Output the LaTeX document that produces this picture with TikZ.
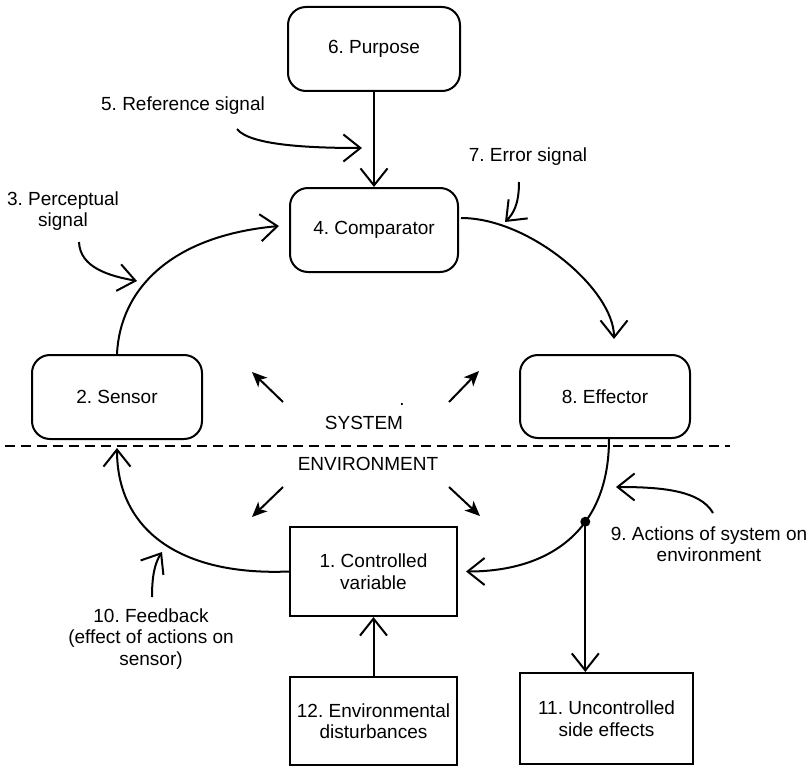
\documentclass[tikz,border=0pt]{standalone}
\usepackage{fontspec}
\setmainfont{Liberation Sans}
\usetikzlibrary{arrows.meta}
\begin{document}
\frenchspacing
\begin{tikzpicture}[x=1pt,y=-1pt,
  every node/.style={font=\fontsize{19}{21.5}\selectfont\frenchspacing, align=center, inner sep=0pt},
  rbox/.style={draw, line width=2pt, rounded corners=18pt},
  sbox/.style={draw, line width=2pt},
  conn/.style={line width=2pt, -{Straight Barb[length=17pt,width=27pt,line width=2pt]}},
  filled/.style={line width=2pt, -{Stealth[length=15pt,width=13pt,inset=4pt]}},
  divider/.style={line width=2pt, dash pattern=on 10pt off 6pt}
]
\useasboundingbox (0,0) rectangle (812,768);

% boxes
\node[rbox, minimum width=172pt, minimum height=84pt] (purpose) at (374,49) {6. Purpose};
\node[rbox, minimum width=168pt, minimum height=84pt] (comp) at (374,230) {4. Comparator};
\node[rbox, minimum width=170pt, minimum height=84pt] (sensor) at (117,397) {2. Sensor};
\node[rbox, minimum width=170pt, minimum height=83pt] (eff) at (605,396.5) {8. Effector};
\node[sbox, minimum width=167pt, minimum height=89pt] (cv) at (373.5,571.5) {1. Controlled\\variable};
\node[sbox, minimum width=167pt, minimum height=88pt] (dist) at (373.5,721) {12. Environmental\\disturbances};
\node[sbox, minimum width=173pt, minimum height=91pt] (se) at (606.5,718.5) {11. Uncontrolled\\side effects};

% labels
\node (lref) at (183,106) {5. Reference signal};
\node (lperc) at (63,211) {3. Perceptual\\signal};
\node (lerr) at (528,157) {7. Error signal};
\node (lsys) at (364,423) {SYSTEM};
\node (lenv) at (368,464) {ENVIRONMENT};
\node (lact) at (709,544) {9. Actions of system on\\environment};
\node (lfb) at (151,639) {10. Feedback\\(effect of actions on\\sensor)};
\node[anchor=base] (ldot) at (402,405) {.};

% divider
\coordinate (dl) at (5,446);
\coordinate (dr) at (730,446);
\draw[divider] (dl) -- (dr);

% main loop
\draw[conn] (purpose.south) -- (comp.north);
\draw[conn] (sensor.north) .. controls (120,290) and (170,236) .. ([xshift=-10pt,yshift=4pt]comp.west);
\draw[conn] ([xshift=2pt,yshift=12pt]comp.east) .. controls (530,218) and (614,290) .. ([xshift=9pt,yshift=15pt]eff.north);
\draw[conn] ([xshift=4pt]eff.south) .. controls (609,530) and (550,571.5) .. coordinate[pos=0.38] (dot) ([xshift=8pt]cv.east);
\fill (dot) circle (5pt);
\draw[conn] (dot) -- (dot |- se.north);
\draw[conn] (cv.west) .. controls (180,576) and (117,530) .. ([yshift=-8pt]sensor.south);
\draw[conn] (dist.north) -- (cv.south);

% label arrows
\coordinate (refs) at (237,129);
\coordinate (reft) at (362,148);
\draw[conn] (refs) .. controls (250,146) and (315,148) .. (reft);
\coordinate (percs) at (79,242);
\coordinate (perct) at (137,281);
\draw[conn] (percs) .. controls (80,268) and (110,276) .. (perct);
\coordinate (errs) at (519,182);
\coordinate (errt) at (505,222);
\draw[conn] (errs) .. controls (519,205) and (513,214) .. (errt);
\coordinate (acts) at (713,513);
\coordinate (actt) at (616,487);
\draw[conn] (acts) .. controls (700,490) and (660,487) .. (actt);
\coordinate (fbs) at (152,597);
\coordinate (fbt) at (162,552);
\draw[conn] (fbs) .. controls (152,575) and (155,563) .. (fbt);

% filled arrows
\coordinate (a1s) at (283,402); \coordinate (a1t) at (252,372);
\coordinate (a2s) at (449,402); \coordinate (a2t) at (479,371);
\coordinate (a3s) at (283,487); \coordinate (a3t) at (252,517);
\coordinate (a4s) at (449,487); \coordinate (a4t) at (480,516);
\draw[filled] (a1s) -- (a1t);
\draw[filled] (a2s) -- (a2t);
\draw[filled] (a3s) -- (a3t);
\draw[filled] (a4s) -- (a4t);
\end{tikzpicture}
\end{document}
